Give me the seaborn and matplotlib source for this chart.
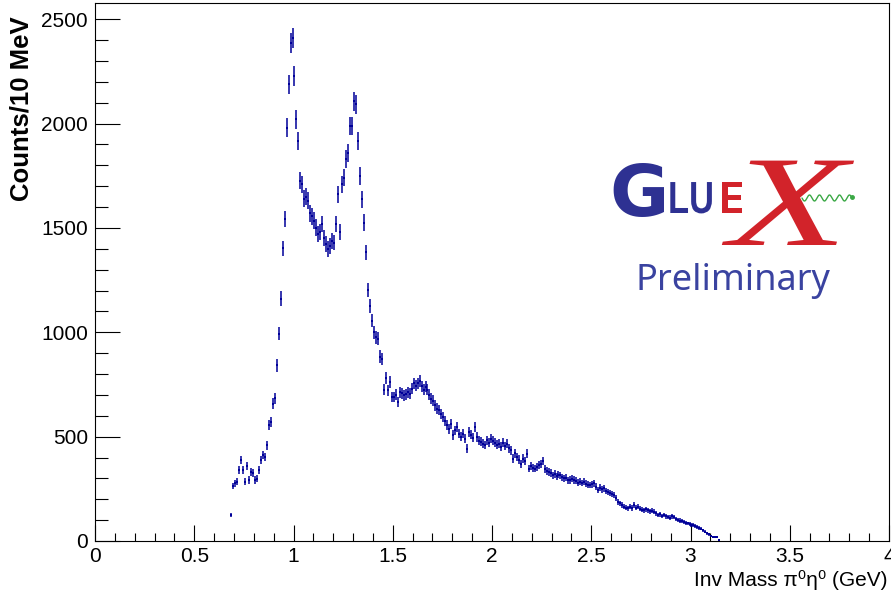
import numpy as np
import pandas as pd
import matplotlib
matplotlib.use("Agg")
import matplotlib.pyplot as plt
from matplotlib.ticker import AutoMinorLocator, FixedLocator
from matplotlib.patheffects import AbstractPathEffect
from matplotlib.transforms import Affine2D
import seaborn as sns

# ---------------- data (10 MeV bins) ----------------
bin_lo = 0.68          # lower edge of the first filled bin (GeV)
bin_width = 0.01       # GeV
counts = [
    124, 263, 276, 284, 340, 387, 340, 285, 360, 292,
    331, 325, 292, 298, 340, 387, 411, 403, 459, 554,
    570, 658, 685, 841, 993, 1162, 1402, 1543, 1981, 2188,
    2387, 2411, 2228, 2020, 1917, 1726, 1710, 1640, 1650, 1630,
    1570, 1555, 1535, 1502, 1471, 1480, 1519, 1450, 1423, 1399,
    1415, 1439, 1430, 1519, 1662, 1479, 1710, 1741, 1829, 1861,
    1989, 1989, 2108, 2092, 1917, 1750, 1638, 1526, 1383, 1203,
    1128, 1056, 1000, 977, 970, 884, 873, 725, 782, 722,
    762, 690, 690, 700, 666, 712, 708, 698, 703, 712,
    706, 730, 755, 745, 755, 768, 741, 725, 740, 725,
    700, 682, 672, 650, 634, 628, 610, 594, 575, 554,
    538, 562, 507, 530, 546, 515, 500, 515, 490, 443,
    522, 510, 495, 546, 499, 480, 475, 467, 460, 483,
    470, 491, 480, 470, 462, 467, 451, 470, 455, 467,
    445, 435, 395, 420, 403, 390, 371, 395, 385, 419,
    347, 360, 350, 347, 355, 363, 370, 384, 345, 335,
    331, 325, 315, 320, 310, 318, 315, 305, 300, 303,
    290, 292, 298, 292, 288, 280, 284, 278, 284, 275,
    270, 268, 272, 276, 260, 244, 255, 248, 252, 240,
    236, 230, 225, 220, 205, 188, 180, 172, 164, 160,
    156, 165, 158, 172, 160, 164, 155, 150, 148, 152,
    148, 142, 145, 140, 132, 124, 128, 120, 124, 118,
    116, 112, 118, 116, 106, 100, 98, 94, 92, 88,
    84, 82, 78, 76, 72, 68, 62, 58, 52, 45,
    37, 32, 26, 20, 18, 20, 4,
]
x_ticks = [0, 0.5, 1, 1.5, 2, 2.5, 3, 3.5, 4]
x_tick_labels = ["0", "0.5", "1", "1.5", "2", "2.5", "3", "3.5", "4"]
y_ticks = [0, 500, 1000, 1500, 2000, 2500]
y_tick_labels = ["0", "500", "1000", "1500", "2000", "2500"]

df = pd.DataFrame({"counts": counts})
df["mass"] = bin_lo + bin_width * (np.arange(len(df)) + 0.5)
df["err"] = np.sqrt(df["counts"])

# ---------------- style ----------------
sns.set_theme(style="white")
plt.rcParams["font.family"] = ["Liberation Sans", "DejaVu Sans"]

W, H = 891, 594
fig = plt.figure(figsize=(W / 100, H / 100), dpi=100)
L, R, T, B = 95, 889, 3, 541
ax = fig.add_axes([L / W, 1 - B / H, (R - L) / W, (B - T) / H])

hist_color = "#000099"
ax.errorbar(df["mass"], df["counts"], yerr=df["err"], xerr=bin_width / 2,
            fmt="none", ecolor=hist_color, elinewidth=1.1, capsize=0)
sns.scatterplot(data=df, x="mass", y="counts", ax=ax, color=hist_color,
                s=2, marker="s", edgecolor=None, linewidth=0, legend=False)

ax.set_xlim(0, 4)
ax.set_ylim(0, 2578)
ax.set_xlabel("")
ax.set_ylabel("")

ax.xaxis.set_major_locator(FixedLocator(x_ticks))
ax.set_xticklabels(x_tick_labels)
ax.yaxis.set_major_locator(FixedLocator(y_ticks))
ax.set_yticklabels(y_tick_labels)
ax.xaxis.set_minor_locator(AutoMinorLocator(5))
ax.yaxis.set_minor_locator(AutoMinorLocator(5))

ax.tick_params(axis="x", which="major", direction="in", length=11.5, width=0.8,
               color="black", labelsize=15, pad=4, top=False, bottom=True)
ax.tick_params(axis="x", which="minor", direction="in", length=5.8, width=0.8,
               color="black", top=False, bottom=True)
ax.tick_params(axis="y", which="major", direction="in", length=18, width=0.8,
               color="black", labelsize=15, pad=5, right=False, left=True)
ax.tick_params(axis="y", which="minor", direction="in", length=9, width=0.8,
               color="black", right=False, left=True)
for lab in ax.get_xticklabels() + ax.get_yticklabels():
    lab.set_color("black")
for sp in ax.spines.values():
    sp.set_visible(True)
    sp.set_color("black")
    sp.set_linewidth(0.8)

fig.text(887 / W, 1 - 586 / H, "Inv Mass π⁰η⁰ (GeV)", ha="right", va="baseline",
         fontsize=15, color="black")
fig.text(22 / W, 1 - 16 / H, "Counts/10 MeV", ha="center", va="top",
         rotation=90, fontsize=18.5, fontweight="bold", color="black")


# ---------------- GlueX logo (pixel coordinates overlay) ----------------
class Stretch(AbstractPathEffect):
    """Draw the glyphs scaled about a display point (text stays real text)."""

    def __init__(self, sx, sy, cx, cy, dx=0.0, dy=0.0):
        super().__init__()
        self.t = (Affine2D().translate(-cx, -cy).scale(sx, sy)
                  .translate(cx + dx, cy + dy))

    def draw_path(self, renderer, gc, tpath, affine, rgbFace=None):
        renderer.draw_path(gc, tpath, affine + self.t, rgbFace)


ov = fig.add_axes([0, 0, 1, 1], facecolor="none")
ov.set_xlim(0, W)
ov.set_ylim(H, 0)
ov.axis("off")


def disp(x, y):
    return ov.transData.transform((x, y))


blue = "#2e3192"
red = "#d2232a"
ov.text(609, 216, "G", color=blue, fontsize=52, fontweight="bold",
        family="DejaVu Sans", ha="left", va="baseline")
ov.text(668, 213, "LU", color=blue, fontsize=27, fontweight="bold",
        family="Liberation Sans", ha="left", va="baseline",
        path_effects=[Stretch(0.92, 1.2, *disp(668, 213))])
ov.text(720, 213, "E", color=red, fontsize=27, fontweight="bold",
        family="Liberation Sans", ha="left", va="baseline",
        path_effects=[Stretch(0.95, 1.2, *disp(720, 213))])
# the calligraphic X: text anchored higher, drawn stretched and shifted down
cx, cy = disp(788, 222)
ov.text(788, 222, "X", color=red, fontsize=64, family="Liberation Serif",
        style="italic", ha="center", va="baseline",
        path_effects=[Stretch(2.2, 1.45, cx, cy, dx=0, dy=-23)])
wx = np.linspace(802, 852, 200)
ov.plot(wx, 198 + 3 * np.sin((wx - 802) / 50 * 2 * np.pi * 5), color="#3aa845", lw=1.0)
ov.plot([852], [197], "o", color="#3aa845", ms=2.5)
ov.text(733, 290, "Preliminary", color="#3a43a0", fontsize=26,
        family="Noto Sans", ha="center", va="baseline")

fig.savefig("out.png", dpi=100, facecolor="white")
